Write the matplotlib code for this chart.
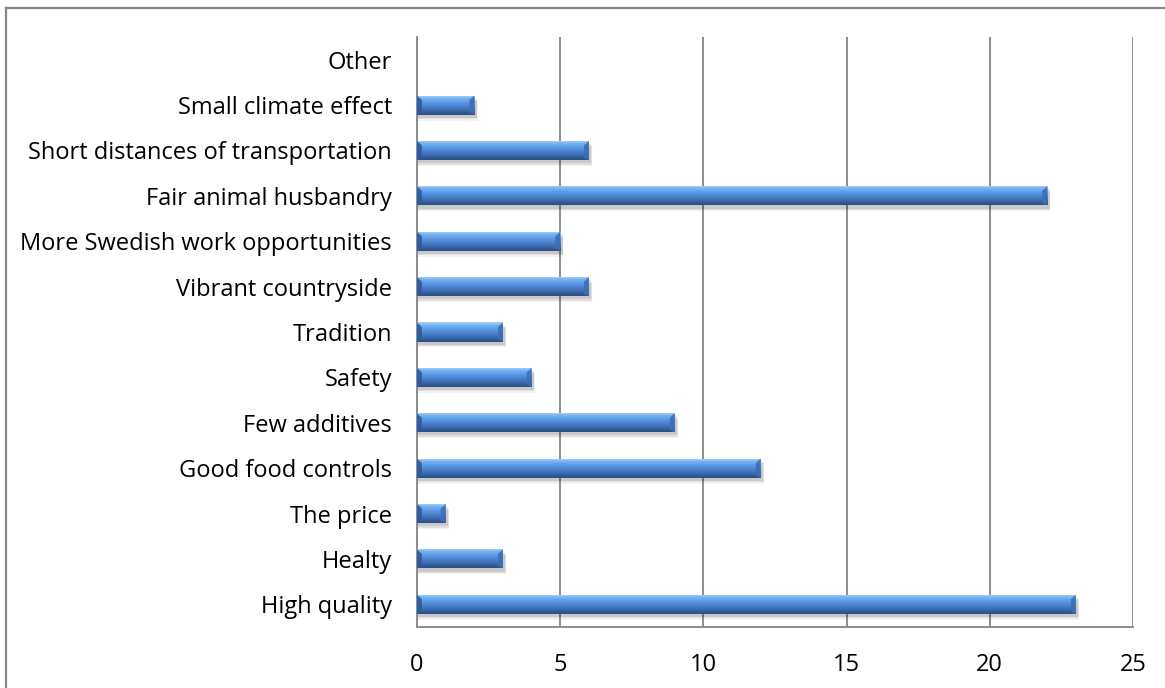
import numpy as np
import matplotlib
matplotlib.use("Agg")
import matplotlib.pyplot as plt
from matplotlib.patches import Polygon, Rectangle
from matplotlib.lines import Line2D

plt.rcParams['font.family'] = ['Open Sans', 'DejaVu Sans']

# bottom to top
categories = ["High quality", "Healty", "The price", "Good food controls",
              "Few additives", "Safety", "Tradition", "Vibrant countryside",
              "More Swedish work opportunities", "Fair animal husbandry",
              "Short distances of transportation", "Small climate effect", "Other"]
counts = [23, 3, 1, 12, 9, 4, 3, 6, 5, 22, 6, 2, 0]
xticks = [0, 5, 10, 15, 20, 25]

GRID = "#868686"

fig = plt.figure(figsize=(11.65, 6.88), dpi=100)
fig.patch.set_facecolor("white")
ax = fig.add_axes([417 / 1165, 1 - 627 / 688, (1133 - 417) / 1165, (627 - 37) / 688])

# outer chart frame (top and left edges)
fig.add_artist(Line2D([6 / 1165, 1], [1 - 8 / 688, 1 - 8 / 688],
                      transform=fig.transFigure, color=GRID, lw=1.6))
fig.add_artist(Line2D([6 / 1165, 6 / 1165], [0, 1 - 8 / 688],
                      transform=fig.transFigure, color=GRID, lw=1.6))

ax.set_xlim(0, 25)
ax.set_ylim(-0.5, len(categories) - 0.5)

# vertical gradient for the bevelled bars (top row first)
grad_cols = np.array([
    [0.62, 0.80, 0.97], [0.47, 0.70, 0.94], [0.40, 0.65, 0.93],
    [0.34, 0.59, 0.89], [0.31, 0.54, 0.85], [0.28, 0.49, 0.78],
    [0.25, 0.44, 0.71], [0.21, 0.38, 0.62], [0.18, 0.32, 0.53]])
grad_img = grad_cols[:, None, :]

bh = 0.42
bx = 0.17   # bevel width in x units
by = 0.10   # bevel depth in y units

for i, v in enumerate(counts):
    if v <= 0:
        continue
    y0, y1 = i - bh / 2, i + bh / 2
    # soft drop shadow
    for k, a in enumerate([0.10, 0.07, 0.05]):
        d = 0.03 * (k + 1)
        ax.add_patch(Rectangle((0.05, y0 - 0.04 - d), v + 0.02 + d * 0.5, bh,
                               facecolor="#000000", alpha=a, lw=0, zorder=2))
    im = ax.imshow(grad_img, extent=(0, v, y0, y1), aspect="auto",
                   interpolation="bilinear", zorder=3, origin="upper")
    clip = Rectangle((0, y0), v, bh, transform=ax.transData)
    im.set_clip_path(clip)
    # end bevels
    ax.add_patch(Polygon([(v, y1), (v - bx, y1 - by), (v - bx, y0 + by * 0.5), (v, y0)],
                         closed=True, facecolor="#3d6eb2", alpha=0.9, lw=0, zorder=4))
    ax.add_patch(Polygon([(0, y1), (bx, y1 - by), (bx, y0 + by * 0.5), (0, y0)],
                         closed=True, facecolor="#2e5a98", alpha=0.9, lw=0, zorder=4))

ax.set_yticks(range(len(categories)))
ax.set_yticklabels(categories, fontsize=17)
ax.set_xticks(xticks)
ax.set_xticklabels([str(t) for t in xticks], fontsize=17)
ax.tick_params(axis="both", length=0, colors="black")
ax.tick_params(axis="y", pad=18)
ax.tick_params(axis="x", pad=19)

ax.grid(axis="x", color=GRID, lw=1.3, zorder=1)
ax.set_axisbelow(True)
for s in ["top", "right"]:
    ax.spines[s].set_visible(False)
for s in ["left", "bottom"]:
    ax.spines[s].set_color(GRID)
    ax.spines[s].set_linewidth(1.3)

fig.savefig("out.png", dpi=100, facecolor="white")
